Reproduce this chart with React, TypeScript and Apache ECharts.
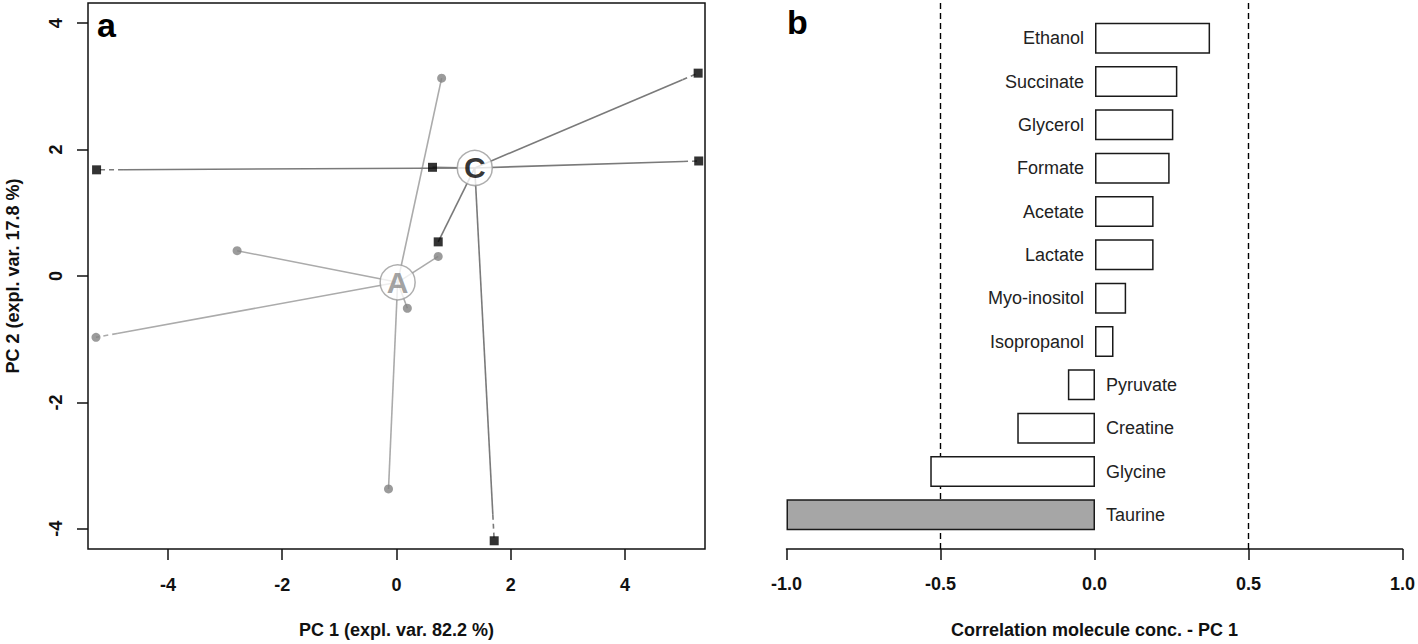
import React, { useEffect, useRef } from "react";
import * as echarts from "echarts";

// ---------- Panel a: PCA scores ----------
const PC1_TICKS = [-4, -2, 0, 2, 4];
const PC2_TICKS = [-4, -2, 0, 2, 4];
const PC1_RANGE = [-5.4, 5.4];
const PC2_RANGE = [-4.32, 4.32];

const centroidA = [0.02, -0.1];
const pointsA = [
  [0.79, 3.13],
  [-2.79, 0.4],
  [0.73, 0.31],
  [0.19, -0.51],
  [-5.26, -0.97],
  [-0.14, -3.37],
];
const centroidC = [1.37, 1.71];
const pointsC = [
  [-5.25, 1.68],
  [0.63, 1.72],
  [5.28, 3.21],
  [5.29, 1.82],
  [0.73, 0.54],
  [1.71, -4.19],
];

// ---------- Panel b: correlations ----------
const molecules = [
  "Ethanol",
  "Succinate",
  "Glycerol",
  "Formate",
  "Acetate",
  "Lactate",
  "Myo-inositol",
  "Isopropanol",
  "Pyruvate",
  "Creatine",
  "Glycine",
  "Taurine",
];
const correlations = [0.373, 0.267, 0.254, 0.242, 0.19, 0.19, 0.101, 0.06, -0.088, -0.252, -0.534, -1.0];
const highlighted = "Taurine";
const thresholds = [-0.5, 0.5];
const CORR_TICKS_INTERVAL = 0.5;

const FONT = "'Liberation Sans', Arial, Helvetica, sans-serif";

function isEdge(p: number[]) {
  return Math.abs(p[0]) > 5 || Math.abs(p[1]) > 4;
}

function buildSegments(center: number[], pts: number[][]) {
  const solid: any[] = [];
  const dashed: any[] = [];
  const split = 0.93;
  pts.forEach((p) => {
    if (isEdge(p)) {
      const m = [center[0] + (p[0] - center[0]) * split, center[1] + (p[1] - center[1]) * split];
      solid.push({ coords: [center, m] });
      dashed.push({ coords: [m, p] });
    } else {
      solid.push({ coords: [center, p] });
    }
  });
  return { solid, dashed };
}

export default function App() {
  const ref = useRef<HTMLDivElement>(null);

  useEffect(() => {
    if (!ref.current) return;
    const chart = echarts.init(ref.current, undefined, { renderer: "svg" });
    const segA = buildSegments(centroidA, pointsA);
    const segC = buildSegments(centroidC, pointsC);
    const colA = "#ababab";
    const colC = "#7a7a7a";

    const lineSeries = (data: any[], color: string, dashed: boolean) => ({
      type: "lines",
      coordinateSystem: "cartesian2d",
      xAxisIndex: 0,
      yAxisIndex: 0,
      silent: true,
      data,
      lineStyle: { color, width: 1.6, opacity: 1, curveness: 0, type: dashed ? [5, 4] : "solid" },
    });

    const option: any = {
      animation: false,
      textStyle: { fontFamily: FONT },
      grid: [
        { left: 88, top: 3, width: 617, height: 548, show: true, borderColor: "#111", borderWidth: 1.5, backgroundColor: "transparent" },
        { left: 786.5, top: 0, width: 617, height: 551 },
        { left: 786.5, top: 16.5, width: 617, height: 520 },
      ],
      xAxis: [
        {
          gridIndex: 0,
          type: "value",
          min: PC1_RANGE[0],
          max: PC1_RANGE[1],
          splitLine: { show: false },
          axisLine: { show: false, onZero: false },
          axisTick: { show: true, length: 11, customValues: PC1_TICKS, lineStyle: { color: "#111", width: 1.5 } },
          axisLabel: { customValues: PC1_TICKS, margin: 27, fontSize: 18, fontWeight: "bold", color: "#111", fontFamily: FONT },
          name: "PC 1 (expl. var. 82.2 %)",
          nameLocation: "middle",
          nameGap: 72,
          nameTextStyle: { fontSize: 18, fontWeight: "bold", color: "#111", fontFamily: FONT },
        },
        {
          gridIndex: 1,
          type: "value",
          min: -1,
          max: 1,
          interval: CORR_TICKS_INTERVAL,
          splitLine: { show: false },
          axisLine: { show: true, onZero: false, lineStyle: { color: "#111", width: 1.5 } },
          axisTick: { show: true, length: 11, lineStyle: { color: "#111", width: 1.5 } },
          axisLabel: {
            margin: 26,
            fontSize: 18,
            fontWeight: "bold",
            color: "#111",
            fontFamily: FONT,
            formatter: (v: number) => (Math.abs(v) < 1e-9 ? "0.0" : v.toFixed(1)),
          },
          name: "Correlation molecule conc. - PC 1",
          nameLocation: "middle",
          nameGap: 72,
          nameTextStyle: { fontSize: 18, fontWeight: "bold", color: "#111", fontFamily: FONT },
        },
        { gridIndex: 2, type: "value", min: -1, max: 1, show: false },
      ],
      yAxis: [
        {
          gridIndex: 0,
          type: "value",
          min: PC2_RANGE[0],
          max: PC2_RANGE[1],
          splitLine: { show: false },
          axisLine: { show: false, onZero: false },
          axisTick: { show: true, length: 11, customValues: PC2_TICKS, lineStyle: { color: "#111", width: 1.5 } },
          axisLabel: { customValues: PC2_TICKS, rotate: 90, margin: 23, fontSize: 18, fontWeight: "bold", color: "#111", fontFamily: FONT },
          name: "PC 2 (expl. var. 17.8 %)",
          nameLocation: "middle",
          nameGap: 66,
          nameTextStyle: { fontSize: 18, fontWeight: "bold", color: "#111", fontFamily: FONT },
        },
        { gridIndex: 1, type: "value", min: 0, max: 1, show: false },
        { gridIndex: 2, type: "category", data: molecules, inverse: true, show: false },
      ],
      graphic: [
        { type: "text", left: 97, top: 8, style: { text: "a", fontSize: 34, fontWeight: "bold", fill: "#000", fontFamily: FONT } },
        { type: "text", left: 787, top: 5, style: { text: "b", fontSize: 34, fontWeight: "bold", fill: "#000", fontFamily: FONT } },
      ],
      series: [
        lineSeries(segA.solid, colA, false),
        lineSeries(segA.dashed, colA, true),
        lineSeries(segC.solid, colC, false),
        lineSeries(segC.dashed, colC, true),
        {
          type: "scatter",
          xAxisIndex: 0,
          yAxisIndex: 0,
          symbol: "circle",
          symbolSize: 9,
          itemStyle: { color: "#828282" },
          data: pointsA,
          silent: true,
        },
        {
          type: "scatter",
          xAxisIndex: 0,
          yAxisIndex: 0,
          symbol: "rect",
          symbolSize: 9,
          itemStyle: { color: "#000" },
          data: pointsC,
          silent: true,
        },
        {
          type: "scatter",
          xAxisIndex: 0,
          yAxisIndex: 0,
          symbol: "circle",
          symbolSize: 35,
          itemStyle: { color: "#fff", borderColor: "#9a9a9a", borderWidth: 1.5 },
          label: { show: true, position: "inside", formatter: "{b}", fontSize: 30, fontWeight: "bold", fontFamily: FONT },
          data: [
            { name: "A", value: centroidA, label: { color: "#8a8a8a" } },
            { name: "C", value: centroidC, label: { color: "#000" } },
          ],
          silent: true,
          z: 5,
        },
        {
          type: "lines",
          coordinateSystem: "cartesian2d",
          xAxisIndex: 1,
          yAxisIndex: 1,
          silent: true,
          data: thresholds.map((t) => ({ coords: [[t, 0], [t, 1]] })),
          lineStyle: { color: "#000", width: 1.4, opacity: 1, type: [6, 4] },
        },
        {
          type: "bar",
          xAxisIndex: 2,
          yAxisIndex: 2,
          barWidth: 31,
          silent: true,
          data: molecules.map((m, i) => ({
            value: correlations[i],
            itemStyle: { color: m === highlighted ? "#a6a6a6" : "#fff" },
            label: { position: correlations[i] >= 0 ? "left" : "right" },
          })),
          itemStyle: { borderColor: "#1a1a1a", borderWidth: 1.5 },
          label: { show: true, formatter: "{b}", distance: 11, fontSize: 18, color: "#222", fontFamily: FONT },
          z: 3,
        },
      ],
    };
    chart.setOption(option);
    return () => chart.dispose();
  }, []);

  return <div ref={ref} style={{ position: "fixed", left: 0, top: 0, width: 1418, height: 644, background: "#fff" }} />;
}
